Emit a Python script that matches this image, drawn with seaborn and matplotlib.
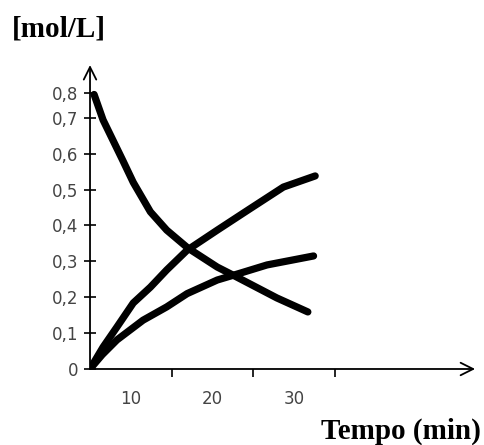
import matplotlib
matplotlib.use("Agg")
from matplotlib import pyplot as plt
import pandas as pd
import seaborn as sns

# Curves (time in min, concentration in mol/L)
t_dec = [0.5, 1.6, 2.8, 4.0, 5.3, 7.4, 9.4, 12.0, 15.6, 17.5, 22.9, 26.7]
c_dec = [0.765, 0.694, 0.638, 0.582, 0.52, 0.438, 0.387, 0.337, 0.284, 0.262, 0.198, 0.159]

t_up = [0, 1.6, 3.3, 5.3, 7.4, 9.4, 11.9, 15.6, 19.5, 23.7, 27.6]
c_up = [0, 0.061, 0.117, 0.184, 0.228, 0.276, 0.331, 0.387, 0.445, 0.507, 0.538]

t_low = [0, 1.5, 3.3, 6.5, 9.4, 11.9, 15.6, 18.4, 21.7, 27.4]
c_low = [0, 0.04, 0.081, 0.136, 0.173, 0.21, 0.248, 0.267, 0.29, 0.315]

x_ticks = [10, 20, 30]
x_label_pos = [5, 15, 25]
x_labels = ["10", "20", "30"]
y_ticks = [0, 0.1, 0.2, 0.3, 0.4, 0.5, 0.6, 0.7, 0.77]
y_labels = ["0", "0,1", "0,2", "0,3", "0,4", "0,5", "0,6", "0,7", "0,8"]


def main():
    sns.set_style("white")
    df = pd.concat([
        pd.DataFrame({"t": t_dec, "c": c_dec, "s": "A"}),
        pd.DataFrame({"t": t_up, "c": c_up, "s": "B"}),
        pd.DataFrame({"t": t_low, "c": c_low, "s": "C"}),
    ])

    fig = plt.figure(figsize=(4.85, 4.45), dpi=100)
    ax = fig.add_axes([0.1856, 0.1708, 0.794, 0.683])
    sns.lineplot(data=df, x="t", y="c", hue="s", units="s", estimator=None, sort=False,
                 palette=["black"] * 3, linewidth=5.2, legend=False, ax=ax,
                 solid_capstyle="round", solid_joinstyle="round")

    ax.set_xlim(0, 47.2)
    ax.set_ylim(0, 0.847)
    for s in ax.spines.values():
        s.set_visible(False)

    # axes drawn as arrows
    arrow = dict(arrowstyle="->,head_length=0.9,head_width=0.45", lw=1.3, color="black",
                 shrinkA=0, shrinkB=0)
    ax.annotate("", xy=(1, 0), xytext=(0, 0), xycoords="axes fraction", arrowprops=arrow)
    ax.annotate("", xy=(0, 1), xytext=(0, 0), xycoords="axes fraction", arrowprops=arrow)

    ax.set_yticks(y_ticks)
    ax.set_yticklabels(y_labels)
    ax.tick_params(axis="y", direction="inout", length=9, width=1.2, color="black",
                   labelsize=12, labelcolor="#444444", pad=4, left=True)
    ax.set_xticks(x_ticks)
    ax.set_xticklabels([])
    ax.set_xticks(x_label_pos, minor=True)
    ax.set_xticklabels(x_labels, minor=True)
    ax.tick_params(axis="x", which="major", direction="out", length=6, width=1.2,
                   color="black", bottom=True)
    ax.tick_params(axis="x", which="minor", length=0, labelsize=12,
                   labelcolor="#444444", pad=15, bottom=True)
    ax.set_xlabel("")
    ax.set_ylabel("")

    serif = dict(family="Liberation Serif", fontweight="bold", fontsize=21, color="black")
    fig.text(0.025, 0.935, "[mol/L]", ha="left", va="center", **serif)
    fig.text(0.992, 0.03, "Tempo (min)", ha="right", va="center", **serif)

    fig.savefig("out.png", dpi=100)


if __name__ == "__main__":
    main()
